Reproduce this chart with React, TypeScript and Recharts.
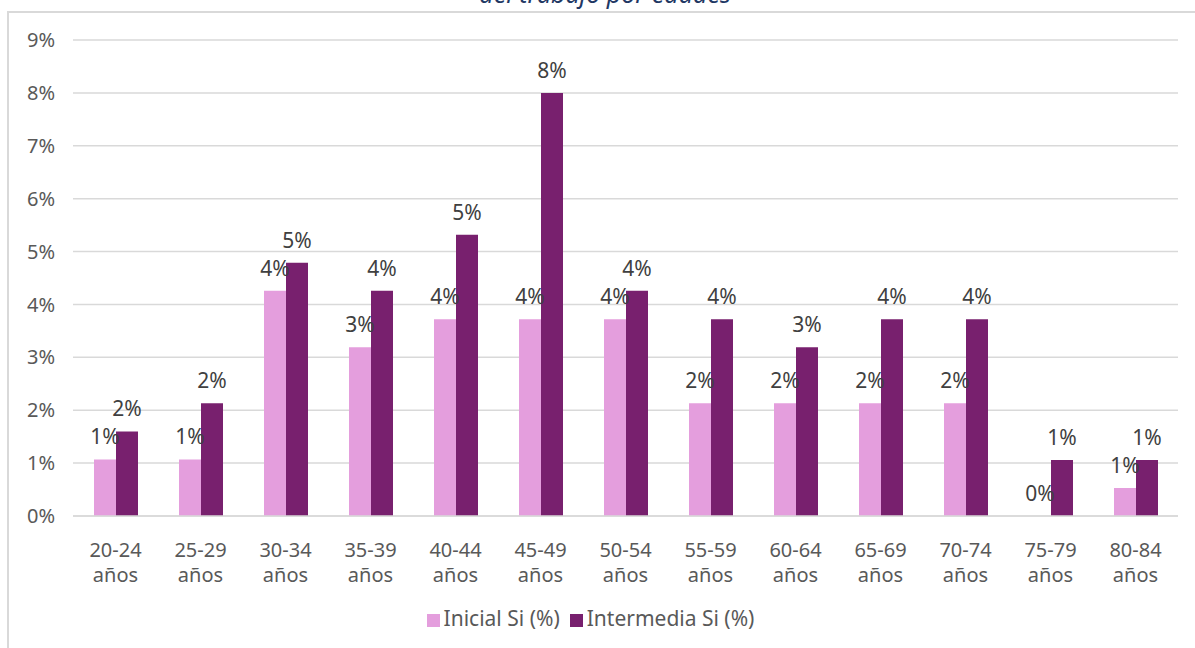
import { BarChart, Bar, XAxis, YAxis, CartesianGrid, Legend, LabelList } from 'recharts';

const ageGroups = ['20-24', '25-29', '30-34', '35-39', '40-44', '45-49', '50-54', '55-59', '60-64', '65-69', '70-74', '75-79', '80-84'];
const inicialSi = [1.07, 1.07, 4.26, 3.19, 3.72, 3.72, 3.72, 2.13, 2.13, 2.13, 2.13, 0, 0.53];
const intermediaSi = [1.6, 2.13, 4.79, 4.26, 5.32, 8.0, 4.26, 3.72, 3.19, 3.72, 3.72, 1.06, 1.06];
const yTicks = [0, 1, 2, 3, 4, 5, 6, 7, 8, 9];

const FONT = '"Noto Sans", "Open Sans", sans-serif';

const chartData = ageGroups.map((g, i) => ({
  age: g,
  inicial: inicialSi[i],
  intermedia: intermediaSi[i],
}));

const AgeTick = ({ x, y, payload }: any) => (
  <text x={x} y={y} textAnchor="middle" fill="#595959" fontSize={20} fontFamily={FONT}>
    <tspan x={x} dy={33}>{payload.value}</tspan>
    <tspan x={x} dy={25}>años</tspan>
  </text>
);

const pct = (v: any) => `${Math.round(Number(v))}%`;

const App = () => {
  return (
    <div style={{ position: 'absolute', left: 0, top: 0, width: 1195, height: 648, overflow: 'hidden', background: '#fff', fontFamily: FONT }}>
      <div style={{ position: 'absolute', left: 7, top: 11, width: 1210, height: 660, border: '2px solid #D9D9D9', boxSizing: 'border-box' }} />
      <div style={{ position: 'absolute', left: 0, width: 1210, top: -22, textAlign: 'center', fontStyle: 'italic', fontSize: 25, color: '#1F3864', lineHeight: '30px' }}>
        del trabajo por edades
      </div>
      <BarChart
        width={1195}
        height={648}
        data={chartData}
        margin={{ top: 40, right: 17, left: 13, bottom: 16 }}
        barGap={0}
        barSize={22}
        style={{ position: 'absolute', left: 0, top: 0 }}
      >
        <CartesianGrid vertical={false} stroke="#D9D9D9" strokeWidth={1.5} />
        <XAxis
          dataKey="age"
          tick={<AgeTick />}
          tickLine={false}
          axisLine={{ stroke: '#D9D9D9', strokeWidth: 1.5 }}
          height={88}
          interval={0}
        />
        <YAxis
          domain={[0, 9]}
          ticks={yTicks}
          tickFormatter={(v) => `${v}%`}
          tickLine={false}
          axisLine={false}
          tickSize={0}
          tickMargin={18}
          width={60}
          tick={{ fill: '#595959', fontSize: 20, fontFamily: FONT }}
        />
        <Legend
          verticalAlign="bottom"
          iconType="square"
          iconSize={13}
          wrapperStyle={{ fontSize: 21, fontFamily: FONT, color: '#595959' }}
          formatter={(value) => <span style={{ color: '#595959' }}>{value}</span>}
        />
        <Bar dataKey="inicial" name="Inicial Si (%)" fill="#E49EDD" minPointSize={0.01} isAnimationActive={false}>
          <LabelList dataKey="inicial" position="top" offset={15} formatter={pct} fill="#404040" fontSize={21} fontFamily={FONT} />
        </Bar>
        <Bar dataKey="intermedia" name="Intermedia Si (%)" fill="#78206E" isAnimationActive={false}>
          <LabelList dataKey="intermedia" position="top" offset={15} formatter={pct} fill="#404040" fontSize={21} fontFamily={FONT} />
        </Bar>
      </BarChart>
    </div>
  );
};

export default App;
